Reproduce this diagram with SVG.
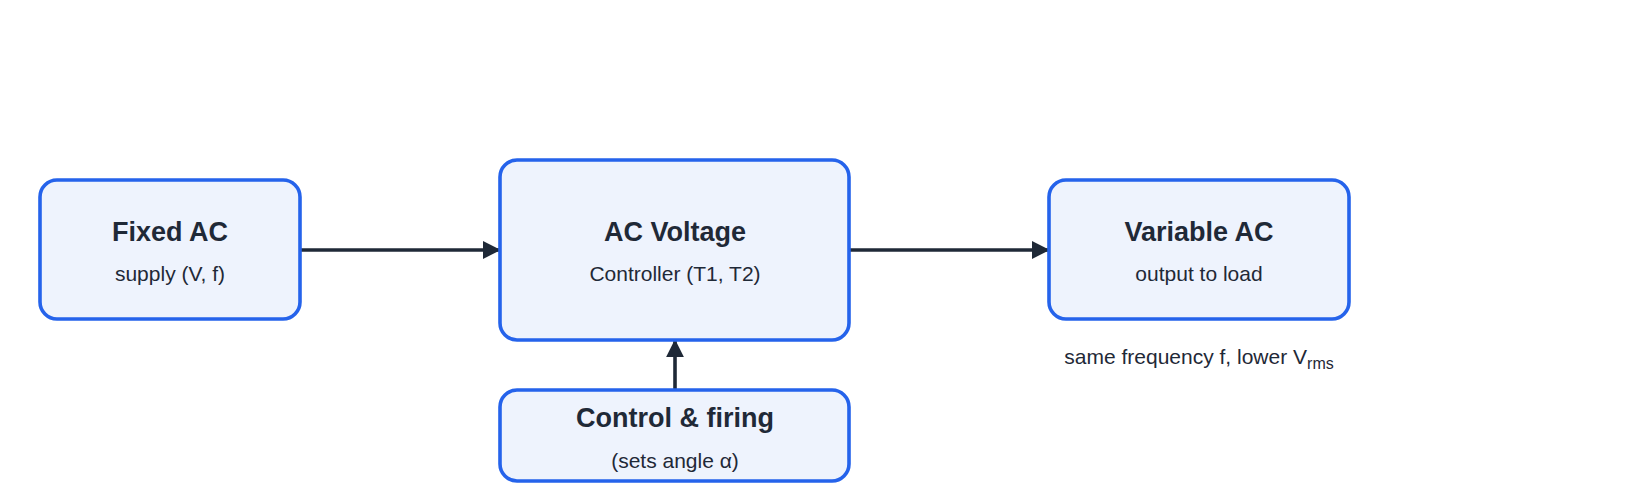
<svg xmlns="http://www.w3.org/2000/svg" width="1640" height="500" viewBox="0 0 1640 500">
<style>
.box{fill:#eef3fd;stroke:#2563eb;stroke-width:3.6}
.t{font-family:"Liberation Sans",Arial,sans-serif;font-weight:bold;font-size:27px;fill:#1f2937;text-anchor:middle}
.s{font-family:"Liberation Sans",Arial,sans-serif;font-size:21px;fill:#1f2937;text-anchor:middle}
.c{stroke:#1f2937;stroke-width:3.6;fill:none;marker-end:url(#a)}
</style>
<defs><marker id="a" viewBox="0 0 10 10" refX="9" refY="5" markerWidth="5" markerHeight="5" orient="auto"><path d="M0,0L10,5L0,10z" fill="#1f2937"/></marker></defs>
<rect width="1640" height="500" fill="#fff"/>
<g id="connectors">
<line class="c" x1="300" y1="250" x2="499" y2="250"/>
<line class="c" x1="849" y1="250" x2="1048" y2="250"/>
<line class="c" x1="675" y1="390" x2="675" y2="341"/>
</g>
<g id="fixed"><rect class="box" x="40" y="180" width="260" height="139" rx="17"/><text class="t" x="170" y="241">Fixed AC</text><text class="s" x="170" y="281">supply (V, f)</text></g>
<g id="controller"><rect class="box" x="500" y="160" width="349" height="180" rx="17"/><text class="t" x="675" y="241">AC Voltage</text><text class="s" x="675" y="281">Controller (T1, T2)</text></g>
<g id="variable"><rect class="box" x="1049" y="180" width="300" height="139" rx="17"/><text class="t" x="1199" y="241">Variable AC</text><text class="s" x="1199" y="281">output to load</text></g>
<g id="control"><rect class="box" x="500" y="390" width="349" height="91" rx="17"/><text class="t" x="675" y="427">Control &amp; firing</text><text class="s" x="675" y="468">(sets angle α)</text></g>
<text class="s" x="1199" y="364">same frequency f, lower V<tspan font-size="16" dy="5">rms</tspan></text>
</svg>
